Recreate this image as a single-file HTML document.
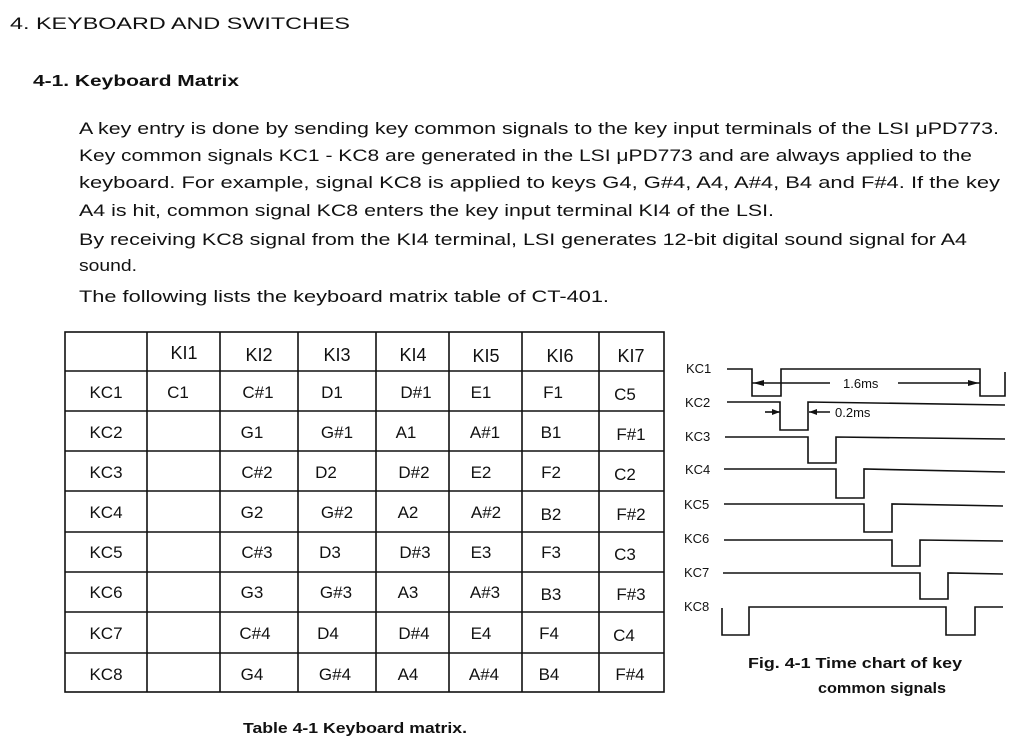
<!DOCTYPE html>
<html><head><meta charset="utf-8"><style>
html,body{margin:0;padding:0;background:#fff;}
svg{display:block;font-family:"Liberation Sans",sans-serif;}
</style></head><body>
<svg width="1024" height="746" viewBox="0 0 1024 746" xmlns="http://www.w3.org/2000/svg">
<rect width="1024" height="746" fill="#fff"/>
<g fill="#111">
<text x="10" y="29" font-size="17" textLength="340" lengthAdjust="spacingAndGlyphs">4.  KEYBOARD  AND  SWITCHES</text>
<text x="33" y="86" font-size="16" font-weight="bold" textLength="206" lengthAdjust="spacingAndGlyphs">4-1.  Keyboard Matrix</text>
<g font-size="17">
<text x="79" y="134" textLength="920" lengthAdjust="spacingAndGlyphs">A key entry is done by sending key common signals to the key input terminals of the LSI μPD773.</text>
<text x="79" y="161" textLength="893" lengthAdjust="spacingAndGlyphs">Key common signals KC1 - KC8 are generated in the LSI μPD773 and are always applied to the</text>
<text x="79" y="188" textLength="921" lengthAdjust="spacingAndGlyphs">keyboard.  For example, signal KC8 is applied to keys G4, G#4, A4, A#4, B4 and F#4.  If the key</text>
<text x="79" y="216" textLength="695" lengthAdjust="spacingAndGlyphs">A4 is hit, common signal KC8 enters the key input terminal KI4 of the LSI.</text>
<text x="79" y="245" textLength="888" lengthAdjust="spacingAndGlyphs">By receiving KC8 signal from the KI4 terminal, LSI generates 12-bit digital sound signal for A4</text>
<text x="79" y="271" textLength="58" lengthAdjust="spacingAndGlyphs">sound.</text>
<text x="79" y="302" textLength="530" lengthAdjust="spacingAndGlyphs">The following lists the keyboard matrix table of CT-401.</text>
</g>
</g>
<g stroke="#111" stroke-width="1.6" fill="none">
<rect x="65" y="332" width="599" height="360"/>
<line x1="147" y1="332" x2="147" y2="692"/>
<line x1="220" y1="332" x2="220" y2="692"/>
<line x1="298" y1="332" x2="298" y2="692"/>
<line x1="376" y1="332" x2="376" y2="692"/>
<line x1="449" y1="332" x2="449" y2="692"/>
<line x1="522" y1="332" x2="522" y2="692"/>
<line x1="599" y1="332" x2="599" y2="692"/>
<line x1="65" y1="371" x2="664" y2="371"/>
<line x1="65" y1="411" x2="664" y2="411"/>
<line x1="65" y1="451" x2="664" y2="451"/>
<line x1="65" y1="491" x2="664" y2="491"/>
<line x1="65" y1="532" x2="664" y2="532"/>
<line x1="65" y1="572" x2="664" y2="572"/>
<line x1="65" y1="612" x2="664" y2="612"/>
<line x1="65" y1="653" x2="664" y2="653"/>
</g>
<g font-size="18" fill="#111" text-anchor="middle">
<text x="184" y="359">KI1</text><text x="259" y="361">KI2</text><text x="337" y="361">KI3</text><text x="413" y="361">KI4</text><text x="486" y="362">KI5</text><text x="560" y="362">KI6</text><text x="631" y="362">KI7</text>
<g font-size="17">
<text x="106" y="398">KC1</text><text x="178" y="398">C1</text><text x="258" y="398">C#1</text><text x="332" y="398">D1</text><text x="416" y="398">D#1</text><text x="481" y="398">E1</text><text x="553" y="398">F1</text><text x="625" y="400">C5</text>
<text x="106" y="438">KC2</text><text x="252" y="438">G1</text><text x="337" y="438">G#1</text><text x="406" y="438">A1</text><text x="485" y="438">A#1</text><text x="551" y="438">B1</text><text x="631" y="440">F#1</text>
<text x="106" y="478">KC3</text><text x="257" y="478">C#2</text><text x="326" y="478">D2</text><text x="414" y="478">D#2</text><text x="481" y="478">E2</text><text x="551" y="478">F2</text><text x="625" y="480">C2</text>
<text x="106" y="518">KC4</text><text x="252" y="518">G2</text><text x="337" y="518">G#2</text><text x="408" y="518">A2</text><text x="486" y="518">A#2</text><text x="551" y="520">B2</text><text x="631" y="520">F#2</text>
<text x="106" y="558">KC5</text><text x="257" y="558">C#3</text><text x="330" y="558">D3</text><text x="415" y="558">D#3</text><text x="481" y="558">E3</text><text x="551" y="558">F3</text><text x="625" y="560">C3</text>
<text x="106" y="598">KC6</text><text x="252" y="598">G3</text><text x="336" y="598">G#3</text><text x="408" y="598">A3</text><text x="485" y="598">A#3</text><text x="551" y="600">B3</text><text x="631" y="600">F#3</text>
<text x="106" y="639">KC7</text><text x="255" y="639">C#4</text><text x="328" y="639">D4</text><text x="414" y="639">D#4</text><text x="481" y="639">E4</text><text x="549" y="639">F4</text><text x="624" y="641">C4</text>
<text x="106" y="680">KC8</text><text x="252" y="680">G4</text><text x="335" y="680">G#4</text><text x="408" y="680">A4</text><text x="484" y="680">A#4</text><text x="549" y="680">B4</text><text x="630" y="680">F#4</text>
</g>
</g>
<text x="243" y="733" font-size="15" font-weight="bold" fill="#111" textLength="224" lengthAdjust="spacingAndGlyphs">Table 4-1  Keyboard matrix.</text>
<g font-size="13" fill="#111">
<text x="686" y="373">KC1</text><text x="685" y="407">KC2</text><text x="685" y="441">KC3</text><text x="685" y="474">KC4</text><text x="684" y="509">KC5</text><text x="684" y="543">KC6</text><text x="684" y="577">KC7</text><text x="684" y="611">KC8</text>
</g>
<g stroke="#111" stroke-width="1.6" fill="none">
<polyline points="727,369 752,369 752,396 781,396 781,369 980,369 980,396 1005,396 1005,372"/>
<polyline points="727,402 780,402 780,430 808,430 808,402 1005,405"/>
<polyline points="725,437 808,437 808,463 836,463 836,437 1005,439"/>
<polyline points="724,469 836,469 836,498 864,498 864,469 1005,472"/>
<polyline points="724,504 864,504 864,532 892,532 892,504 1003,506"/>
<polyline points="724,540 892,540 892,566 920,566 920,540 1003,541"/>
<polyline points="723,573 920,573 920,599 948,599 948,573 1003,574"/>
<polyline points="722,608 722,635 749,635 749,607 946,607 946,635 975,635 975,607 1003,607"/>
<line x1="752" y1="383" x2="830" y2="383"/>
<line x1="898" y1="383" x2="980" y2="383"/>
<line x1="765" y1="412" x2="780" y2="412"/>
<line x1="809" y1="412" x2="830" y2="412"/>
</g>
<g fill="#111">
<polygon points="753,383 764,380 764,386"/>
<polygon points="979,383 968,380 968,386"/>
<polygon points="780,412 772,409 772,415"/>
<polygon points="809,412 817,409 817,415"/>
<text x="843" y="388" font-size="13">1.6ms</text>
<text x="835" y="417" font-size="13">0.2ms</text>
<text x="748" y="668" font-size="15" font-weight="bold" textLength="214" lengthAdjust="spacingAndGlyphs">Fig. 4-1  Time chart of key</text>
<text x="818" y="693" font-size="15" font-weight="bold" textLength="128" lengthAdjust="spacingAndGlyphs">common signals</text>
</g>
</svg>
</body></html>
